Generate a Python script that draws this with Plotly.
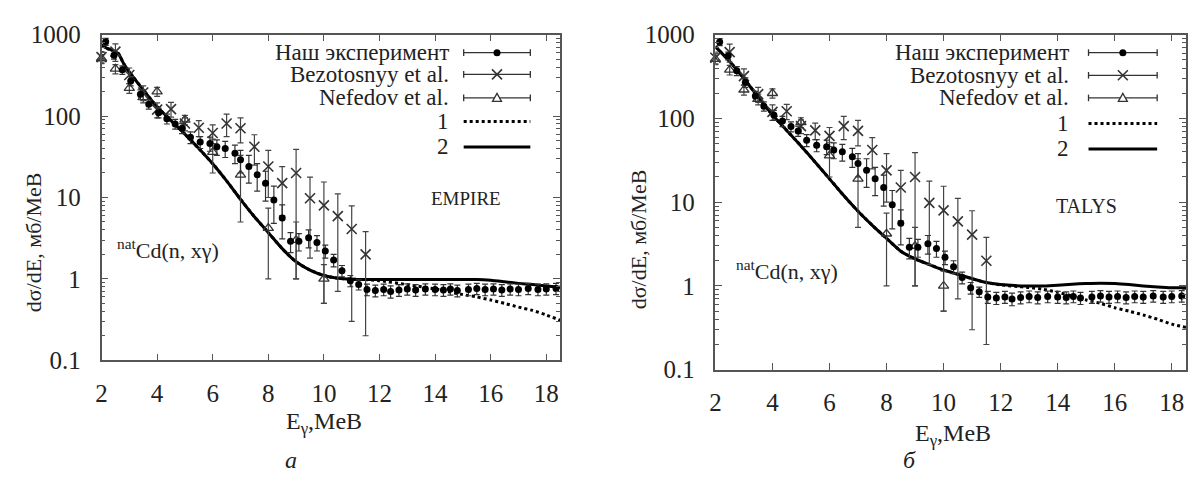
import plotly.graph_objects as go

W, H = 1190, 479

# ---------------- data ----------------
exp_x = [2.15, 2.45, 2.75, 3.05, 3.4, 3.7, 4.05, 4.35, 4.65, 4.9,
         5.2, 5.55, 5.9, 6.15, 6.45, 6.8, 7.0, 7.3, 7.6, 7.9,
         8.2, 8.5, 8.8, 9.1, 9.45, 9.75, 10.05, 10.35, 10.65, 10.95,
         11.25, 11.55, 11.85, 12.15, 12.4, 12.7, 13.0, 13.3, 13.65, 14.0,
         14.3, 14.55, 14.8, 15.2, 15.5, 15.8, 16.1, 16.4, 16.7, 17.0,
         17.35, 17.7, 18.0, 18.35]
exp_y = [820, 560, 370, 270, 185, 140, 110, 93, 80, 71,
         55, 48, 46, 42, 40, 35, 29, 24, 19, 15,
         9.3, 5.6, 2.9, 2.9, 3.2, 2.8, 2.2, 1.7, 1.26, 0.95,
         0.85, 0.74, 0.72, 0.74, 0.70, 0.73, 0.75, 0.73, 0.75, 0.74,
         0.73, 0.75, 0.72, 0.74, 0.76, 0.74, 0.75, 0.73, 0.75, 0.74,
         0.76, 0.74, 0.75, 0.76]
exp_err = [80, 60, 45, 35, 25, 18, 15, 13, 11, 10,
           9, 8, 9, 9, 9, 9, 9, 9, 7, 6,
           4.5, 2.5, 0.8, 0.7, 0.8, 0.6, 0.4, 0.3, 0.2, 0.15,
           0.12, 0.12, 0.12, 0.12, 0.12, 0.12, 0.12, 0.12, 0.12, 0.12,
           0.12, 0.12, 0.12, 0.12, 0.12, 0.12, 0.12, 0.12, 0.12, 0.12,
           0.12, 0.12, 0.12, 0.12]

bez_x = [2.0, 2.5, 3.0, 3.5, 4.0, 4.5, 5.0, 5.5, 6.0, 6.5, 7.0, 7.5, 8.0, 8.5, 9.0, 9.5, 10.0, 10.5, 11.0, 11.5]
bez_y = [530, 620, 320, 195, 120, 122, 81, 72, 62, 81, 71, 42, 24, 15, 20, 9.8, 8.0, 5.9, 4.1, 2.0]
bez_err = [90, 150, 70, 40, 25, 25, 15, 16, 16, 25, 24, 17, 14, 9, 19, 8, 7.5, 5.2, 3.8, 1.8]

nef_x = [2.0, 2.5, 3.0, 3.5, 4.0, 5.0, 6.0, 7.0, 8.0, 9.0, 10.0]
nef_y = [510, 380, 220, 170, 200, 90, 36, 19, 4.2, 3.0, 1.0]
nef_err = [60, 50, 30, 25, 25, 12, 16, 14, 3.2, 2.0, 0.5]

emp_x = [2.0, 2.2, 2.4, 2.6, 2.8, 3.0, 3.5, 4.0, 4.5, 5.0, 5.5, 6.0, 6.5, 7.0, 7.5, 8.0,
         8.5, 9.0, 9.5, 10.0, 10.5, 11.0, 11.5, 12.0, 13.0, 14.0, 15.0, 15.5, 16.0, 16.5,
         17.0, 17.5, 18.0, 18.5]
emp2_y = [740, 680, 640, 590, 440, 350, 210, 130, 88, 60, 40, 26, 16, 9.5, 5.8, 3.7,
          2.35, 1.62, 1.28, 1.1, 1.02, 0.99, 0.98, 0.98, 0.98, 0.98, 0.98, 0.98, 0.96, 0.92,
          0.88, 0.85, 0.82, 0.79]
emp1_y = [740, 680, 640, 590, 440, 350, 210, 130, 88, 60, 40, 26, 16, 9.5, 5.8, 3.7,
          2.35, 1.62, 1.28, 1.1, 1.02, 0.99, 0.98, 0.95, 0.85, 0.75, 0.64, 0.6, 0.55, 0.5,
          0.45, 0.41, 0.36, 0.31]

tal_x = [2.0, 2.5, 3.0, 3.5, 4.0, 4.5, 5.0, 5.5, 6.0, 6.5, 7.0, 7.5, 8.0, 8.5, 9.0, 9.5,
         10.0, 10.5, 11.0, 11.5, 12.0, 12.5, 13.0, 13.5, 14.0, 14.5, 15.0, 15.5, 16.0, 16.5,
         17.0, 17.5, 18.0, 18.5]
tal2_y = [720, 480, 300, 180, 110, 72, 47, 30, 19, 12, 7.8, 5.3, 3.7, 2.6, 2.1, 1.8,
          1.55, 1.38, 1.22, 1.1, 1.04, 1.01, 1.0, 1.0, 1.02, 1.05, 1.07, 1.08, 1.07, 1.04,
          1.0, 0.97, 0.95, 0.95]
tal1_y = [720, 480, 300, 180, 110, 72, 47, 30, 19, 12, 7.8, 5.3, 3.7, 2.6, 2.1, 1.8,
          1.55, 1.38, 1.22, 1.1, 1.03, 0.99, 0.96, 0.91, 0.84, 0.76, 0.68, 0.62, 0.55, 0.5,
          0.45, 0.4, 0.35, 0.32]

x_ticks = [2, 4, 6, 8, 10, 12, 14, 16, 18]
y_tickvals = [0.1, 1, 10, 100, 1000]
y_ticktext = ["0.1", "1", "10", "100", "1000"]
legend_labels = ["Наш эксперимент", "Bezotosnyy et al.", "Nefedov et al.", "1", "2"]

FONT = "Liberation Serif"
AX = "#555555"
TXT = "#222222"


def px(x):
    return x / W


def py(y):
    return 1 - y / H


fig = go.Figure()

panels = [
    dict(xa="x", ya="y", c1=emp1_y, c2=emp2_y, cx=emp_x),
    dict(xa="x2", ya="y2", c1=tal1_y, c2=tal2_y, cx=tal_x),
]

for p in panels:
    kw = dict(xaxis=p["xa"], yaxis=p["ya"], showlegend=False)
    fig.add_trace(go.Scatter(x=p["cx"], y=p["c1"], mode="lines", line_shape="spline",
                             line=dict(color="black", width=3, dash="dot", smoothing=0.6), **kw))
    fig.add_trace(go.Scatter(x=p["cx"], y=p["c2"], mode="lines", line_shape="spline",
                             line=dict(color="black", width=3, smoothing=0.6), **kw))
    fig.add_trace(go.Scatter(x=nef_x, y=nef_y, mode="markers", cliponaxis=False,
                             marker=dict(symbol="triangle-up-open", size=9, color="#333",
                                         line=dict(width=1.3)),
                             error_y=dict(type="data", array=nef_err, color="#444",
                                          thickness=1.2, width=3), **kw))
    fig.add_trace(go.Scatter(x=bez_x, y=bez_y, mode="markers", cliponaxis=False,
                             marker=dict(symbol="x-thin-open", size=10, color="#333",
                                         line=dict(width=1.6, color="#333")),
                             error_y=dict(type="data", array=bez_err, color="#444",
                                          thickness=1.2, width=3), **kw))
    fig.add_trace(go.Scatter(x=exp_x, y=exp_y, mode="markers", cliponaxis=False,
                             marker=dict(symbol="circle", size=7, color="black"),
                             error_y=dict(type="data", array=exp_err, color="#333",
                                          thickness=1.2, width=3), **kw))

common_x = dict(range=[2, 18.5], tickvals=x_ticks, ticks="inside", ticklen=7,
                tickcolor=AX, tickwidth=1.3, showline=True, linecolor=AX, linewidth=1.5,
                mirror="allticks", showgrid=False, zeroline=False, ticklabelstandoff=10,
                tickfont=dict(family=FONT, size=25, color=TXT))
common_y = dict(type="log", range=[-1, 3], tickvals=y_tickvals, ticktext=y_ticktext,
                ticks="inside", ticklen=7, tickcolor=AX, tickwidth=1.3,
                showline=True, linecolor=AX, linewidth=1.5, mirror="allticks",
                showgrid=False, zeroline=False, ticklabelstandoff=14,
                minor=dict(ticks="inside", ticklen=4, dtick="D1", tickcolor=AX, showgrid=False),
                tickfont=dict(family=FONT, size=25, color=TXT))

fig.update_layout(
    width=W, height=H, margin=dict(l=0, r=0, t=0, b=0),
    paper_bgcolor="white", plot_bgcolor="white",
    font=dict(family=FONT, color=TXT),
    xaxis=dict(domain=[px(96), px(557)], anchor="y", **common_x),
    yaxis=dict(domain=[py(368), py(23)], anchor="x", **common_y),
    xaxis2=dict(domain=[px(713), px(1186)], anchor="y2", **common_x),
    yaxis2=dict(domain=[py(378), py(23)], anchor="x2", **common_y),
)

ann = []
shapes = []


def text(x, y, s, size=20, xanchor="center", italic=False, angle=0):
    f = dict(family=FONT, size=size, color=TXT)
    if italic:
        f["style"] = "italic"
    ann.append(dict(x=px(x), y=py(y), xref="paper", yref="paper", text=s, showarrow=False,
                    xanchor=xanchor, yanchor="middle", textangle=angle, font=f))


# axis titles
text(27, 243, "dσ/dE, мб/MeB", size=22, angle=-90)
text(636, 240, "dσ/dE, мб/MeB", size=22, angle=-90)
text(320, 434, "E<sub>γ</sub>,MeB", size=24)
text(952, 447, "E<sub>γ</sub>,MeB", size=24)
text(286, 474, "а", size=24, italic=True)
text(908, 474, "б", size=24, italic=True)
text(462, 197, "EMPIRE", size=19)
text(1086, 205, "TALYS", size=20)
text(110, 250, "<sup>nat</sup>Cd(n, xγ)", size=22, xanchor="left")
text(732, 272, "<sup>nat</sup>Cd(n, xγ)", size=22, xanchor="left")

# legends
legends = [
    dict(tx=447, rows=[42, 65, 90, 115, 142], l0=460, l1=527),
    dict(tx=1070, rows=[42, 66, 90, 117, 144], l0=1088, l1=1157),
]
for lg in legends:
    mid = (lg["l0"] + lg["l1"]) / 2
    for i, (lab, ry) in enumerate(zip(legend_labels, lg["rows"])):
        text(lg["tx"], ry, lab, size=23, xanchor="right")
        if i < 3:
            shapes.append(dict(type="line", xref="paper", yref="paper",
                               x0=px(lg["l0"]), x1=px(lg["l1"]), y0=py(ry), y1=py(ry),
                               line=dict(color="#333", width=1.3)))
            for ex in (lg["l0"], lg["l1"]):
                shapes.append(dict(type="line", xref="paper", yref="paper",
                                   x0=px(ex), x1=px(ex), y0=py(ry - 3.5), y1=py(ry + 3.5),
                                   line=dict(color="#333", width=1.3)))
            if i == 0:
                shapes.append(dict(type="circle", xref="paper", yref="paper",
                                   xsizemode="pixel", ysizemode="pixel",
                                   xanchor=px(mid), yanchor=py(ry),
                                   x0=-3.5, x1=3.5, y0=-3.5, y1=3.5,
                                   fillcolor="black", line=dict(color="black", width=0)))
            elif i == 1:
                shapes.append(dict(type="path", xref="paper", yref="paper",
                                   xsizemode="pixel", ysizemode="pixel",
                                   xanchor=px(mid), yanchor=py(ry),
                                   path="M-5,-5 L5,5 M-5,5 L5,-5",
                                   line=dict(color="#333", width=1.6)))
            else:
                shapes.append(dict(type="path", xref="paper", yref="paper",
                                   xsizemode="pixel", ysizemode="pixel",
                                   xanchor=px(mid), yanchor=py(ry),
                                   path="M-4.5,-3.5 L4.5,-3.5 L0,4.5 Z",
                                   fillcolor="white", line=dict(color="#333", width=1.3)))
        else:
            shapes.append(dict(type="line", xref="paper", yref="paper",
                               x0=px(lg["l0"]), x1=px(lg["l1"]), y0=py(ry), y1=py(ry),
                               line=dict(color="black", width=3,
                                         dash="dot" if i == 3 else "solid")))

fig.update_layout(annotations=ann, shapes=shapes)
fig.write_html("out.html")
